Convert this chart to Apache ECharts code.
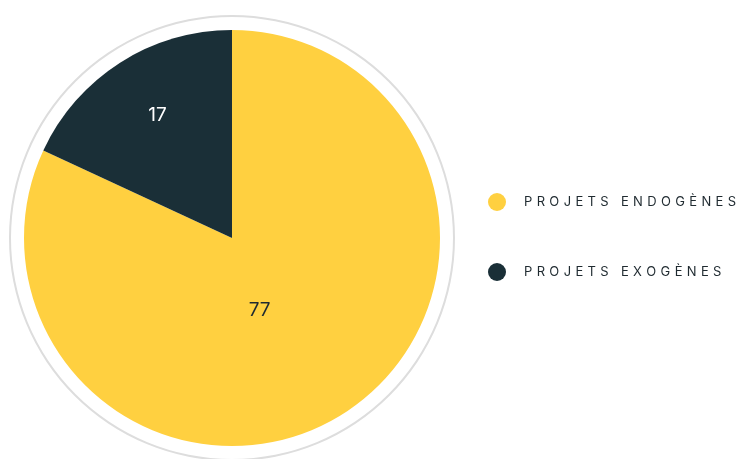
<!DOCTYPE html>
<html>
<head>
<meta charset="utf-8">
<script src="https://cdn.jsdelivr.net/npm/echarts@6/dist/echarts.min.js"></script>
<style>
  html, body { margin: 0; padding: 0; background: #fff; }
  #chart { width: 738px; height: 459px; }
</style>
</head>
<body>
<div id="chart"></div>
<script>
const categories = ['PROJETS ENDOGÈNES', 'PROJETS EXOGÈNES']
const values = [77, 17]
const colors = ['#FFD040', '#1A2F37']

// spread letters like the reference legend
const spaced = s => s.split('').join('\u2004')

const labelOffsets = [[-30, -18], [-17, -33]]

const chart = echarts.init(document.getElementById('chart'))
chart.setOption({
  textStyle: { fontFamily: 'Inter, "Noto Sans", sans-serif' },
  animation: false,
  legend: {
    orient: 'vertical',
    left: 483,
    top: 188,
    icon: 'circle',
    itemWidth: 18,
    itemHeight: 18,
    itemGap: 52,
    formatter: name => spaced(name),
    textStyle: {
      color: '#1f2a30',
      fontSize: 13,
      padding: [0, 0, 0, 13]
    },
    data: categories
  },
  series: [
    {
      // thin grey ring around the pie
      type: 'pie',
      silent: true,
      center: [232, 238],
      radius: [221, 223],
      label: { show: false },
      labelLine: { show: false },
      itemStyle: { color: '#dddddd' },
      data: [{ value: 1, name: 'ring' }]
    },
    {
      type: 'pie',
      center: [232, 238],
      radius: [0, 208],
      startAngle: 90,
      clockwise: true,
      labelLine: { show: false },
      data: categories.map((c, i) => ({
        name: c,
        value: values[i],
        itemStyle: { color: colors[i] },
        label: {
          show: true,
          position: 'inside',
          offset: labelOffsets[i],
          color: i === 0 ? '#1f2a30' : '#ffffff',
          fontSize: 19,
          formatter: '{c}'
        }
      }))
    }
  ]
})
</script>
</body>
</html>
